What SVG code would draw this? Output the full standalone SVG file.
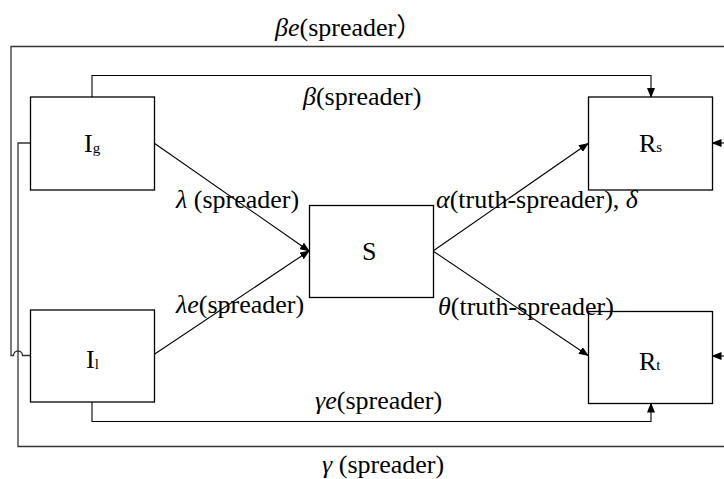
<svg xmlns="http://www.w3.org/2000/svg" width="724" height="479" viewBox="0 0 724 479">
<defs>
<marker id="ah" markerWidth="10" markerHeight="8" refX="9" refY="4" orient="auto" markerUnits="userSpaceOnUse">
<path d="M0,0 L10,4 L0,8 Z" fill="#000"/>
</marker>
</defs>
<style>
.box{fill:#fff;stroke:#000;stroke-width:1.3}
.ln{fill:none;stroke:#333;stroke-width:1.3}
.ar{fill:none;stroke:#000;stroke-width:1.1;marker-end:url(#ah)}
text{font-family:"Liberation Serif","Times New Roman","Noto Sans CJK SC",serif;font-size:26px;fill:#000}
.it{font-style:italic}
.sub{font-size:15px}
</style>
<rect width="724" height="479" fill="#fff"/>
<g id="connectors">
<path class="ln" d="M30,355.5 H22.5 A4.5,4.5 0 0 0 13.5,355.5 H11 V46.5 H724"/>
<path class="ar" d="M724,143 H712.5"/>
<path class="ln" d="M30,143 H18 V446.5 H724"/>
<path class="ar" d="M724,356 H712.5"/>
<path class="ar" d="M92,97 V75.5 H651 V97"/>
<path class="ar" d="M92,402 V421.5 H651 V403.5"/>
<path class="ar" d="M154,143 L309,251"/>
<path class="ar" d="M154,354.5 L309,251"/>
<path class="ar" d="M433,251 L588,143.5"/>
<path class="ar" d="M433,251 L588,355.5"/>
</g>
<g id="node-Ig"><rect class="box" x="30.5" y="97" width="124" height="93"/><text x="84" y="152">I<tspan class="sub" dy="1">g</tspan></text></g>
<g id="node-Il"><rect class="box" x="30.5" y="310" width="124" height="92"/><text x="86" y="368">I<tspan class="sub" dy="1">l</tspan></text></g>
<g id="node-S"><rect class="box" x="309.5" y="205.5" width="124" height="92"/><text x="362" y="260">S</text></g>
<g id="node-Rs"><rect class="box" x="588.5" y="97" width="124" height="93"/><text x="639" y="152">R<tspan class="sub">s</tspan></text></g>
<g id="node-Rt"><rect class="box" x="588.5" y="311.5" width="124" height="92"/><text x="639" y="370">R<tspan class="sub">t</tspan></text></g>
<g id="labels">
<text x="275" y="36"><tspan class="it">βe</tspan>(spreader）</text>
<text x="303" y="105"><tspan class="it">β</tspan>(spreader)</text>
<text x="176" y="208"><tspan class="it">λ</tspan> (spreader)</text>
<text x="176" y="313"><tspan class="it">λe</tspan>(spreader)</text>
<text x="436" y="208"><tspan class="it">α</tspan>(truth-spreader), <tspan class="it">δ</tspan></text>
<text x="438" y="315"><tspan class="it">θ</tspan>(truth-spreader)</text>
<text x="315" y="409"><tspan class="it">γe</tspan>(spreader)</text>
<text x="322" y="473"><tspan class="it">γ</tspan> (spreader)</text>
</g>
</svg>
